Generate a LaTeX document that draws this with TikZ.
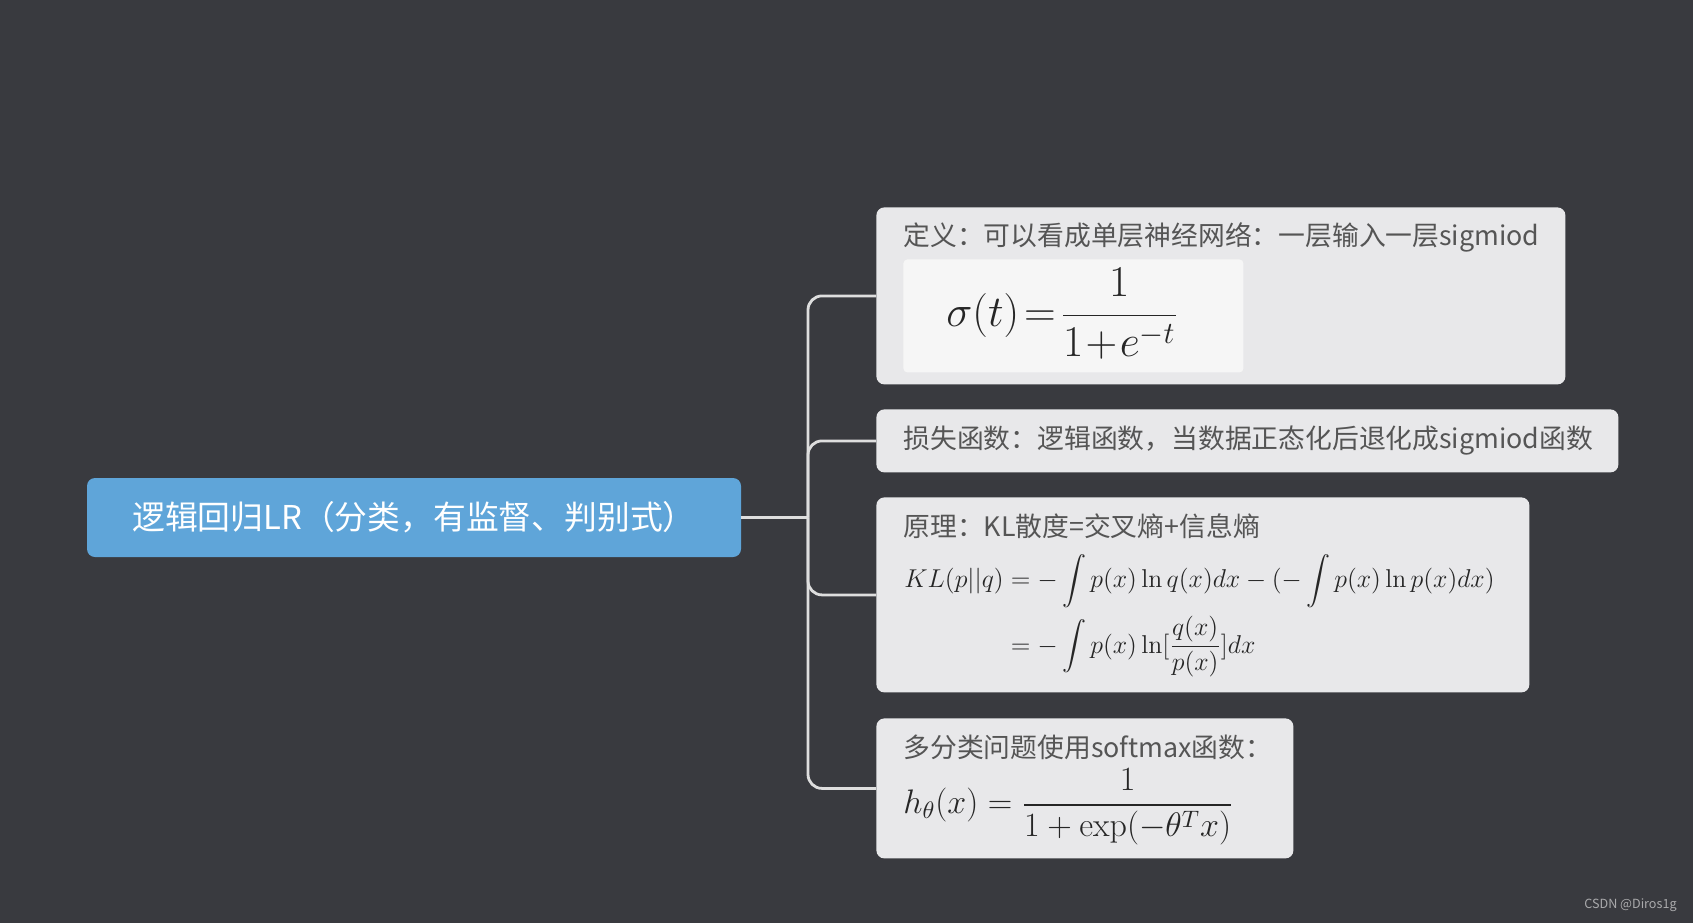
\RequirePackage{fix-cm}
\documentclass[tikz,border=0pt]{standalone}
\usepackage{amsmath}
\usepackage{fontspec}
\newfontfamily\cjk{Noto Sans CJK SC}
\usetikzlibrary{positioning}

\definecolor{bgcol}{RGB}{57,58,63}
\definecolor{cardcol}{RGB}{232,232,234}
\definecolor{rootcol}{RGB}{95,165,217}
\definecolor{txtcol}{RGB}{85,85,85}
\definecolor{linecol}{RGB}{222,222,222}
\definecolor{imgcol}{RGB}{246,246,246}
\definecolor{markcol}{RGB}{170,170,172}

\def\forkx{808}

\begin{document}
\begin{tikzpicture}[x=0.5pt,y=-0.5pt,font=\cjk]
    \tikzstyle{topic}=[rectangle,rounded corners=4pt,fill=rootcol,text=white,minimum width=327pt,minimum height=39.5pt,inner sep=0pt,font=\cjk\fontsize{16.4}{20}\selectfont]
    \tikzstyle{card}=[rectangle,rounded corners=4pt,fill=cardcol,anchor=north west,inner sep=0pt]
    \tikzstyle{cardtext}=[anchor=west,inner sep=0pt,text=txtcol,font=\cjk\fontsize{13.4}{16}\selectfont]
    \tikzstyle{formula}=[anchor=west,inner sep=0pt,text=black!85]
    \tikzstyle{branch}=[draw=linecol,line width=1.4pt,rounded corners=7pt]

    \fill[bgcol] (0,0) rectangle (1693,923);

    \node[topic] (root) at (414,517.5) {逻辑回归LR（分类，有监督、判别式）};

    % cards on the right
    \node[card,minimum width=344.5pt,minimum height=88.5pt] (def) at (876,207) {};
    \node[card,minimum width=371pt,minimum height=31.5pt] (loss) at (876,409) {};
    \node[card,minimum width=326.5pt,minimum height=97.5pt] (theory) at (876,497) {};
    \node[card,minimum width=208.5pt,minimum height=70pt] (multi) at (876,718) {};

    \node[cardtext] (deftxt) at ([xshift=13.5pt,yshift=-15pt]def.north west) {定义：可以看成单层神经网络：一层输入一层sigmiod};
    \node[rectangle,rounded corners=2pt,fill=imgcol,anchor=north west,inner sep=0pt,minimum width=170pt,minimum height=56.5pt] (img) at ([xshift=13.5pt,yshift=-26pt]def.north west) {};
    \node[formula,font=\fontsize{22}{26}\selectfont] (sigma) at ([xshift=21.5pt,yshift=1pt]img.west) {$\displaystyle \sigma(t)\!=\!\frac{1}{1\!+\!e^{-t}}$};

    \node[cardtext] (losstxt) at ([xshift=13.5pt]loss.west) {损失函数：逻辑函数，当数据正态化后退化成sigmiod函数};

    \node[cardtext] (theorytxt) at ([xshift=13.5pt,yshift=-14.5pt]theory.north west) {原理：KL散度=交叉熵+信息熵};
    \node[formula,font=\fontsize{12.9}{15.5}\selectfont] (kl) at ([xshift=14pt,yshift=-59.5pt]theory.north west)
        {$\begin{aligned} KL(p||q) &= -\int p(x)\ln q(x)dx-(-\int p(x)\ln p(x)dx)\\[0pt]
                                    &= -\int p(x)\ln[\frac{q(x)}{p(x)}]dx \end{aligned}$};

    \node[cardtext] (multitxt) at ([xshift=13.5pt,yshift=-14.5pt]multi.north west) {多分类问题使用softmax函数：};
    \node[formula,font=\fontsize{17}{20}\selectfont] (soft) at ([xshift=13.5pt,yshift=-44.5pt]multi.north west) {$\displaystyle h_\theta(x)=\frac{1}{1+\exp(-\theta^Tx)}$};

    % branches
    \coordinate (fork) at (\forkx,517.5);
    \draw[branch] (root.east) -- (fork);
    \foreach \c in {def,loss,theory,multi}
        \draw[branch] (fork) |- (\c.west);

    \node[anchor=east,inner sep=0pt,text=markcol,font=\cjk\fontsize{6.3}{8}\selectfont] (mark) at (1677,905) {CSDN @Diros1g};
\end{tikzpicture}
\end{document}
